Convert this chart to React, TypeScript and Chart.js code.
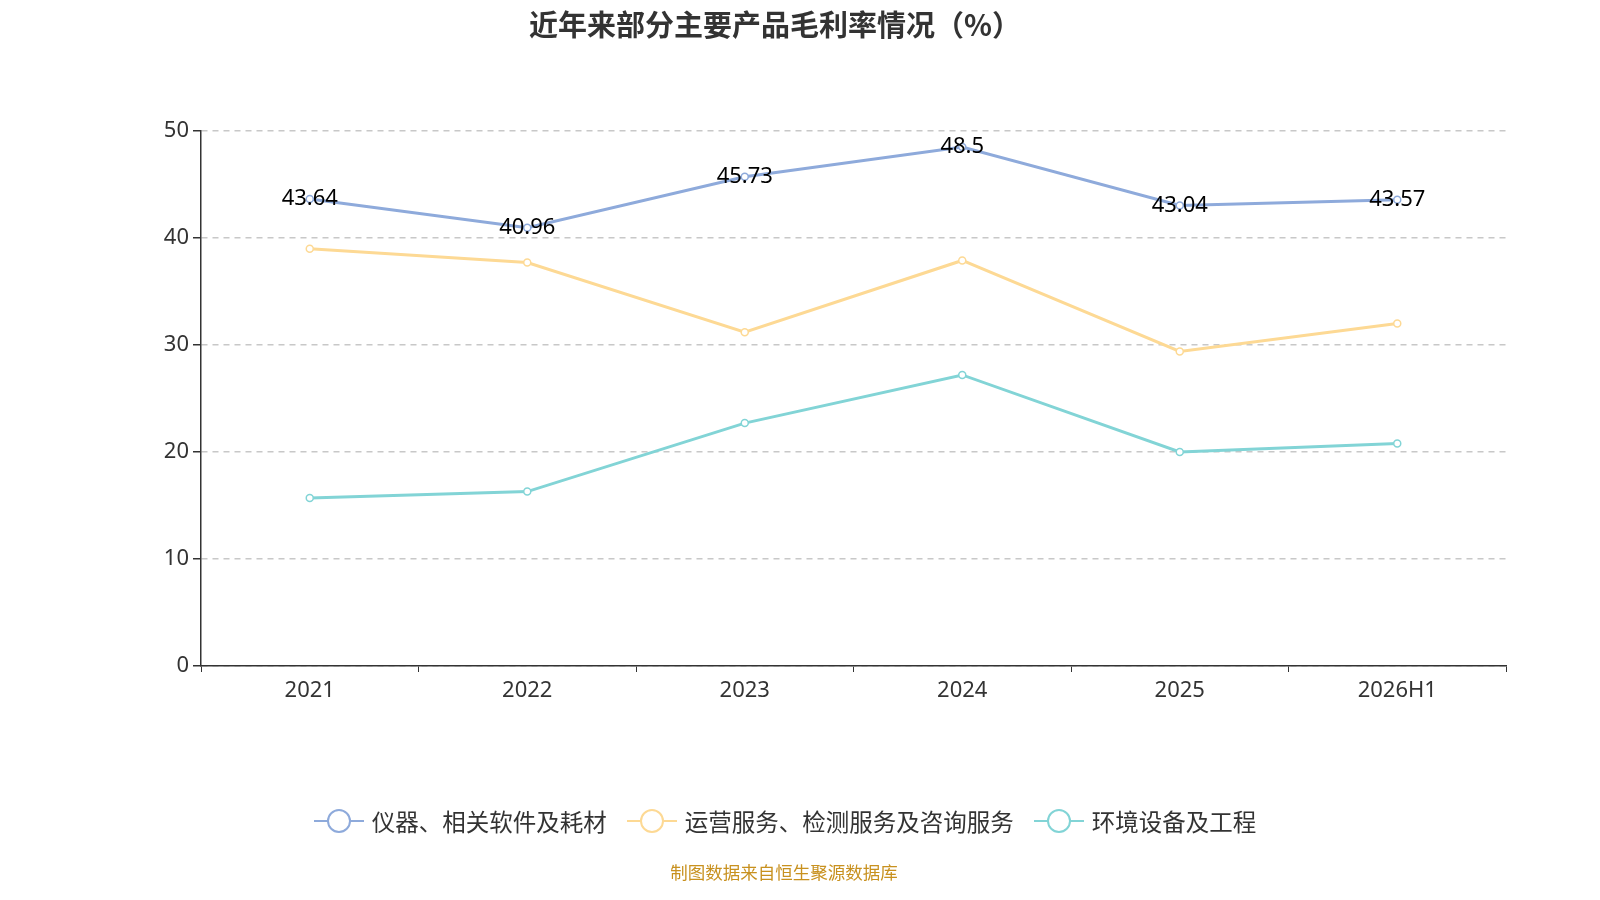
import React, { useEffect, useRef } from "react";
import { Chart, registerables } from "chart.js";
Chart.register(...registerables);

const categories = ["2021", "2022", "2023", "2024", "2025", "2026H1"];
const instruments = [43.64, 40.96, 45.73, 48.5, 43.04, 43.57];
const operations = [39.0, 37.7, 31.2, 37.9, 29.4, 32.0];
const environment = [15.7, 16.3, 22.7, 27.2, 20.0, 20.8];
const seriesNames = ["仪器、相关软件及耗材", "运营服务、检测服务及咨询服务", "环境设备及工程"];
const colors = ["#8eaadb", "#fdd994", "#82d4d6"];
const FONT = "'Noto Sans', 'Noto Sans CJK SC', sans-serif";
const CJK = "'Noto Sans CJK SC', sans-serif";

export default function App() {
  const ref = useRef<HTMLCanvasElement>(null);
  useEffect(() => {
    const labelPlugin = {
      id: "labels",
      afterDatasetsDraw(chart: any) {
        const ctx = chart.ctx;
        const meta = chart.getDatasetMeta(0);
        ctx.save();
        ctx.font = `22px ${FONT}`;
        ctx.fillStyle = "#000";
        ctx.textAlign = "center";
        ctx.textBaseline = "middle";
        meta.data.forEach((p: any, i: number) => ctx.fillText(String(instruments[i]), p.x, p.y));
        ctx.restore();
      },
    };
    const mk = (label: string, data: number[], c: string) => ({
      label, data, borderColor: c, backgroundColor: "#fff", borderWidth: 3,
      pointRadius: 3.5, pointBorderWidth: 1.5, pointBorderColor: c, pointBackgroundColor: "#fff", tension: 0,
    });
    const chart = new Chart(ref.current!, {
      type: "line",
      data: {
        labels: categories,
        datasets: [mk(seriesNames[0], instruments, colors[0]), mk(seriesNames[1], operations, colors[1]), mk(seriesNames[2], environment, colors[2])],
      },
      plugins: [labelPlugin],
      options: {
        animation: false, responsive: false,
        layout: { padding: { left: 0, right: 94, top: 131, bottom: 184 } },
        plugins: { legend: { display: false }, title: { display: false }, tooltip: { enabled: false } },
        scales: {
          x: {
            offset: true,
            grid: { display: true, drawOnChartArea: false, drawTicks: true, tickLength: 6, color: "#333", offset: true } as any,
            border: { color: "#333", width: 1.5 },
            ticks: { color: "#333", font: { size: 22, family: FONT }, padding: 6 },
            afterFit: (s: any) => { s.height = 50; },
          },
          y: {
            min: 0, max: 50,
            grid: { color: "#c8c8c8", lineWidth: 1.5, drawTicks: true, tickLength: 8, tickColor: "#333" } as any,
            border: { color: "#333", width: 1.5, dash: [6, 5] } as any,
            ticks: { stepSize: 10, color: "#333", font: { size: 22, family: FONT }, padding: 4 },
            afterFit: (s: any) => { s.width = 201; },
          },
        },
      },
    });
    return () => chart.destroy();
  }, []);
  return (
    <div style={{ position: "absolute", left: 0, top: 0, width: 1600, height: 900, background: "#fff", fontFamily: CJK }}>
      <canvas ref={ref} width={1600} height={900} style={{ position: "absolute", left: 0, top: 0 }} />
      <div style={{ position: "absolute", top: 2, width: 1550, textAlign: "center", fontSize: 29, fontWeight: "bold", color: "#333" }}>
        近年来部分主要产品毛利率情况（%）
      </div>
      <div style={{ position: "absolute", top: 821, width: 1570, display: "flex", justifyContent: "center", gap: 20, fontSize: 23.5, color: "#333", transform: "translateY(-50%)" }}>
        {seriesNames.map((n, i) => (
          <div key={n} style={{ display: "flex", alignItems: "center", gap: 8 }}>
            <svg width={50} height={30}>
              <line x1={0} y1={15} x2={50} y2={15} stroke={colors[i]} strokeWidth={2} />
              <circle cx={25} cy={15} r={11} fill="#fff" stroke={colors[i]} strokeWidth={2} />
            </svg>
            <span>{n}</span>
          </div>
        ))}
      </div>
      <div style={{ position: "absolute", top: 859, width: 1568, textAlign: "center", fontSize: 17.5, color: "#c8911f" }}>
        制图数据来自恒生聚源数据库
      </div>
    </div>
  );
}
